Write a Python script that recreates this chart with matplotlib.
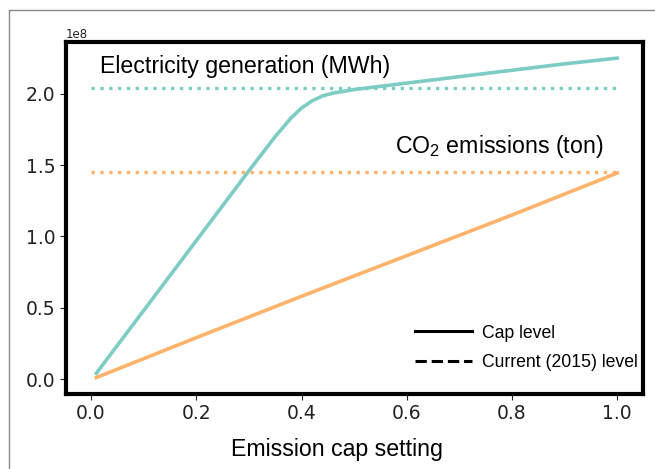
import matplotlib
matplotlib.use('Agg')
import matplotlib.pyplot as plt
from matplotlib.lines import Line2D
import numpy as np

# data (values in 1e8)
cap = [0.01, 0.1, 0.2, 0.3, 0.35, 0.38, 0.40, 0.42, 0.44, 0.46, 0.48, 0.5, 0.6, 0.7, 0.8, 0.9, 1.0]
elec = [0.04, 0.48, 0.97, 1.46, 1.70, 1.83, 1.90, 1.95, 1.985, 2.005, 2.017, 2.03, 2.075, 2.12, 2.165, 2.21, 2.25]
co2_cap = [0.01, 0.2, 0.4, 0.6, 0.8, 0.97, 1.0]
co2 = [0.01, 0.29, 0.58, 0.865, 1.15, 1.40, 1.445]
elec_2015 = 2.04
co2_2015 = 1.45

teal = '#7ecdc4'
orange = '#fdb36b'
sans = ['Liberation Sans', 'DejaVu Sans']
plt.rcParams['mathtext.fontset'] = 'custom'
plt.rcParams['mathtext.rm'] = 'Liberation Sans'
plt.rcParams['mathtext.it'] = 'Liberation Sans:italic'

fig = plt.figure(figsize=(6.55, 4.69), dpi=100)
ax = fig.add_axes([0.1008, 0.1599, 0.8809, 0.7505])

ax.plot(cap, np.array(elec) * 1e8, color=teal, lw=2.6)
ax.plot(co2_cap, np.array(co2) * 1e8, color=orange, lw=2.6)
ax.plot([0.0, 1.0], [elec_2015 * 1e8] * 2, color=teal, lw=2.4, ls=':')
ax.plot([0.0, 1.0], [co2_2015 * 1e8] * 2, color=orange, lw=2.4, ls=':')

ax.set_xlim(-0.0475, 1.049)
ax.set_ylim(-0.105e8, 2.363e8)
ax.set_xticks([0.0, 0.2, 0.4, 0.6, 0.8, 1.0])
ax.set_yticks([0.0, 0.5e8, 1.0e8, 1.5e8, 2.0e8])
ax.tick_params(labelsize=13.5, colors='#222222', length=4)
ax.yaxis.get_offset_text().set_fontsize(8.5)

for s in ax.spines.values():
    s.set_linewidth(3)
    s.set_color('black')

ax.text(0.017, 2.146e8, 'Electricity generation (MWh)', fontsize=16.7, family=sans)
ax.text(0.578, 1.585e8, r'CO$_\mathrm{2}$ emissions (ton)', fontsize=16.7, family=sans)
ax.set_xlabel('Emission cap setting', fontsize=16.7, family=sans)
ax.xaxis.set_label_coords(0.47, -0.125)

handles = [Line2D([], [], color='black', lw=2.2),
           Line2D([], [], color='black', lw=2.2, ls='--')]
ax.legend(handles, ['Cap level', 'Current (2015) level'], loc='upper left',
          bbox_to_anchor=(0.605, 0.197), frameon=False, borderpad=0, borderaxespad=0,
          handlelength=3.2, handletextpad=0.6, labelspacing=0.7,
          prop={'family': sans, 'size': 12.7})

# grey frame of the screenshot
fig.add_artist(Line2D([9 / 655, 1], [1 - 10 / 469] * 2, transform=fig.transFigure, color='#888888', lw=1))
fig.add_artist(Line2D([9 / 655] * 2, [0, 1 - 10 / 469], transform=fig.transFigure, color='#888888', lw=1))

fig.savefig('out.png', dpi=100)
